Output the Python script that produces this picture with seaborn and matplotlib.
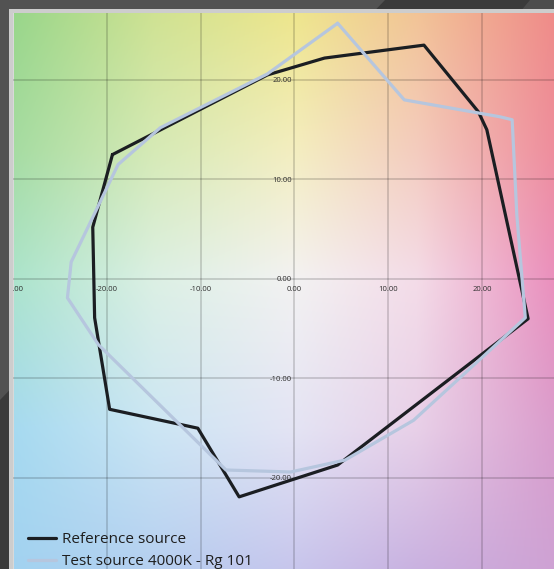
import numpy as np
import pandas as pd
import matplotlib
matplotlib.use('Agg')
import matplotlib.pyplot as plt
import seaborn as sns
from matplotlib.colors import to_rgb
from matplotlib.patches import Polygon, Rectangle

# colour vector data (a', b' style coordinates)
ref_x = [-19.4, -2.9, 3.2, 13.8, 19.6, 20.5, 24.9, 4.6, -5.9, -10.3, -19.7, -21.3, -21.5]
ref_y = [12.5, 20.5, 22.2, 23.5, 16.8, 15.0, -4.0, -18.7, -21.9, -15.0, -13.1, -3.9, 5.2]
test_x = [4.6, 11.7, 21.9, 23.2, 23.7, 24.6, 12.7, 5.4, -0.4, -7.3, -20.9, -24.2, -23.8, -21.5, -18.8, -14.3, -2.9]
test_y = [25.7, 18.0, 16.3, 16.0, 6.4, -3.9, -14.2, -18.2, -19.4, -19.2, -6.6, -1.9, 1.7, 6.2, 11.5, 15.2, 20.6]
labels = ['Reference source', 'Test source 4000K - Rg 101']
line_colors = ['#1b1e22', '#b6c6de']

x_ticks = [-30, -20, -10, 0, 10, 20]
x_ticklabels = ['-30.00', '-20.00', '-10.00', '0.00', '10.00', '20.00']
y_ticks = [-20, -10, 0, 10, 20]
y_ticklabels = ['-20.00', '-10.00', '0.00', '10.00', '20.00']

# background colour field: control colours on a 5x5 grid (top row first)
bg_x = [-30, -15, 0, 13, 28]
bg_y = [27, 13, 0, -15, -30]
bg_colors = [
    ['#98d68a', '#cfe292', '#eee68c', '#f2c496', '#ef8a88'],
    ['#a6dca2', '#d6eab6', '#f4eec0', '#f4ccbe', '#ee8c9c'],
    ['#ace4cc', '#dcf0e4', '#f3f2f2', '#f4dce8', '#ea8ebc'],
    ['#a6daf0', '#cce6f4', '#e4e4f4', '#e8d0e8', '#da9ccc'],
    ['#a2d2f0', '#b4cef0', '#c6c4ec', '#c8b0e0', '#cea2d4'],
]

xlim = (-29.9, 27.66)
ylim = (-29.15, 26.73)


def closed(xs, ys):
    return list(xs) + [xs[0]], list(ys) + [ys[0]]


rx, ry = closed(ref_x, ref_y)
tx, ty = closed(test_x, test_y)
df = pd.DataFrame({
    'a': rx + tx,
    'b': ry + ty,
    'source': [labels[0]] * len(rx) + [labels[1]] * len(tx),
})

sns.set_style('white')
plt.rcParams['font.family'] = ['Open Sans', 'DejaVu Sans']

fig = plt.figure(figsize=(5.54, 5.69), dpi=100)
fig.patch.set_facecolor('#3a3a3a')
# lighter diagonal band in the dark frame
fig.patches.append(Polygon([(0, 1), (385 / 554, 1), (0, 1 - 400 / 569)], closed=True,
                           transform=fig.transFigure, facecolor='#525252', edgecolor='none', zorder=-5))
fig.patches.append(Polygon([(530 / 554, 1), (554 / 554, 1), (554 / 554, 1 - 30 / 569), (520 / 554, 1 - 12 / 569)],
                           closed=True, transform=fig.transFigure, facecolor='#4c4c4c', edgecolor='none', zorder=-5))
# light border of the panel
fig.patches.append(Rectangle((9 / 554, 0), 1, 1 - 9 / 569, transform=fig.transFigure,
                             facecolor='#cdcdcd', edgecolor='none', zorder=-4))

ax = fig.add_axes([13 / 554, 0, 1 - 13 / 554, 1 - 13 / 569])

# smooth background: bilinear blend of the control colours
gx = np.linspace(xlim[0], xlim[1], 400)
gy = np.linspace(ylim[1], ylim[0], 400)
ctrl = np.array([[to_rgb(c) for c in row] for row in bg_colors])
rows = np.stack([[np.interp(gx, bg_x, ctrl[i, :, k]) for k in range(3)] for i in range(len(bg_y))])
img = np.empty((len(gy), len(gx), 3))
for k in range(3):
    for j in range(len(gx)):
        img[:, j, k] = np.interp(gy, bg_y[::-1], rows[::-1, k, j])
ax.imshow(img, extent=[xlim[0], xlim[1], ylim[0], ylim[1]], origin='upper',
          aspect='auto', zorder=0, interpolation='bilinear')

sns.lineplot(data=df, x='a', y='b', hue='source', palette=line_colors,
             sort=False, estimator=None, linewidth=2.3, ax=ax, zorder=3)

ax.set_xlim(*xlim)
ax.set_ylim(*ylim)
ax.set_xlabel('')
ax.set_ylabel('')

for side in ['top', 'right', 'left', 'bottom']:
    ax.spines[side].set_color('none')
ax.spines['left'].set_position(('data', 0))
ax.spines['bottom'].set_position(('data', 0))

ax.set_xticks(x_ticks, x_ticklabels)
ax.set_yticks(y_ticks, y_ticklabels)
ax.tick_params(axis='both', length=0, labelsize=5.5, labelcolor='#2e2e2e')
ax.tick_params(axis='x', pad=5)
ax.tick_params(axis='y', pad=2)
for t in ax.get_xticklabels() + ax.get_yticklabels():
    t.set_clip_on(True)
    t.set_clip_box(ax.bbox)

ax.grid(True, color='#000000', alpha=0.18, linewidth=1.2)
ax.set_axisbelow(True)

handles, _ = ax.get_legend_handles_labels()
ax.legend(handles, labels, loc='upper left', frameon=False,
          bbox_to_anchor=(28 / 554, 1 - 532 / 569), bbox_transform=fig.transFigure,
          borderpad=0, borderaxespad=0, handlelength=1.8, handletextpad=0.4,
          labelspacing=0.45, fontsize=11, labelcolor='#1e1e1e')

fig.savefig('out.png', dpi=100, facecolor=fig.get_facecolor())
